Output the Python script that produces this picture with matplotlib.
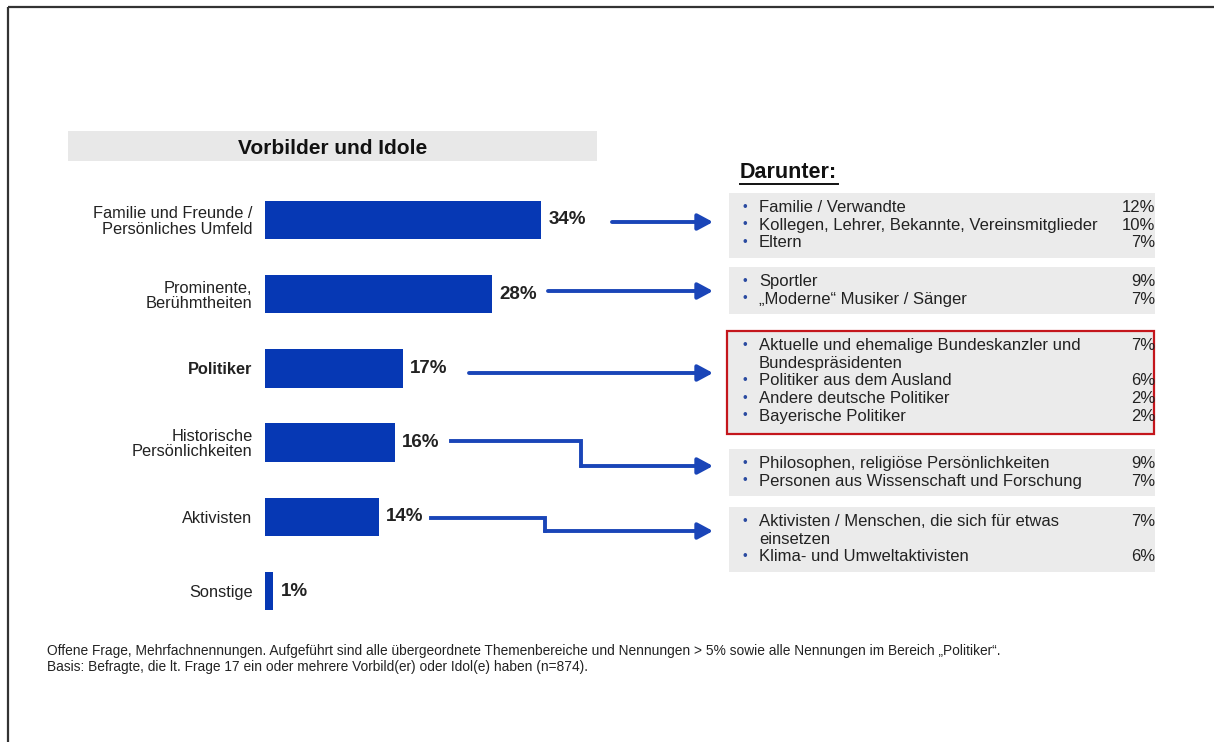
import matplotlib

matplotlib.use("Agg")
import matplotlib.pyplot as plt
from matplotlib.patches import Rectangle

# --- data -----------------------------------------------------------------
CATEGORIES = [
    "Familie und Freunde /\nPersönliches Umfeld",
    "Prominente,\nBerühmtheiten",
    "Politiker",
    "Historische\nPersönlichkeiten",
    "Aktivisten",
    "Sonstige",
]
VALUES = [34, 28, 17, 16, 14, 1]

SUB_ITEMS = [
    ["Familie / Verwandte", "Kollegen, Lehrer, Bekannte, Vereinsmitglieder", "Eltern"],
    ["Sportler", "„Moderne“ Musiker / Sänger"],
    ["Aktuelle und ehemalige Bundeskanzler und\nBundespräsidenten",
     "Politiker aus dem Ausland", "Andere deutsche Politiker", "Bayerische Politiker"],
    ["Philosophen, religiöse Persönlichkeiten", "Personen aus Wissenschaft und Forschung"],
    ["Aktivisten / Menschen, die sich für etwas\neinsetzen", "Klima- und Umweltaktivisten"],
]
SUB_VALUES = [
    [12, 10, 7],
    [9, 7],
    [7, 6, 2, 2],
    [9, 7],
    [7, 6],
]

TITLE = "Vorbilder und Idole"
FOOTNOTE = [
    "Offene Frage, Mehrfachnennungen. Aufgeführt sind alle übergeordnete Themenbereiche "
    "und Nennungen > 5% sowie alle Nennungen im Bereich „Politiker“.",
    "Basis: Befragte, die lt. Frage 17 ein oder mehrere Vorbild(er) oder Idol(e) haben (n=874).",
]

# --- style ----------------------------------------------------------------
W, H = 1214, 742
BAR = "#0638b4"
ARROW = "#1a45b8"
BOXGRAY = "#ebebeb"
INK = "#222222"
RED = "#c4161c"

plt.rcParams["font.family"] = ["Liberation Sans", "DejaVu Sans"]

fig = plt.figure(figsize=(W / 100, H / 100), dpi=100)
fig.patch.set_facecolor("white")

# overlay axes in pixel coordinates for frame, boxes, arrows
ov = fig.add_axes([0, 0, 1, 1])
ov.set_xlim(0, W)
ov.set_ylim(H, 0)
ov.axis("off")


def px_axes(x0, y0, x1, y1):
    return fig.add_axes([x0 / W, 1 - y1 / H, (x1 - x0) / W, (y1 - y0) / H])


# frame (top + left only)
ov.plot([8, W], [7, 7], color="#333333", lw=1.6, solid_capstyle="butt")
ov.plot([8, 8], [7, H], color="#333333", lw=1.6, solid_capstyle="butt")

# title band
ov.add_patch(Rectangle((68, 131), 529, 30, color="#e8e8e8", lw=0))
ov.text(333, 148.5, TITLE, ha="center", va="center", fontsize=15,
        fontweight="bold", color="#111111")

# --- bar chart ------------------------------------------------------------
step = 74.2
ax = px_axes(265, 220 - step / 2, 265 + 812, 220 + step * 5.5)
ax.set_xlim(0, 100)
ax.set_ylim(len(VALUES) - 0.5, -0.5)
ypos = list(range(len(VALUES)))
ax.barh(ypos, VALUES, height=0.52, color=BAR)
ax.set_yticks(ypos)
ax.set_yticklabels(CATEGORIES, fontsize=11.8, color=INK, linespacing=1.0)
ax.get_yticklabels()[2].set_fontweight("bold")
ax.tick_params(axis="y", length=0, pad=9)
ax.set_xticks([])
for s in ax.spines.values():
    s.set_visible(False)
ax.patch.set_alpha(0)
for y, v in zip(ypos, VALUES):
    ax.text(v + 0.9, y, f"{v}%", va="center", ha="left", fontsize=13.5,
            fontweight="bold", color=INK)

# --- arrows ---------------------------------------------------------------
arrow_paths = [
    [(612, 222), (713, 222)],
    [(548, 291), (713, 291)],
    [(469, 373), (713, 373)],
    [(451, 441), (581, 441), (581, 466), (713, 466)],
    [(431, 518), (545, 518), (545, 531), (713, 531)],
]
for path in arrow_paths:
    xs = [p[0] for p in path[:-1]]
    ys = [p[1] for p in path[:-1]]
    if len(path) > 2:
        ov.plot(xs, ys, color=ARROW, lw=2.8, solid_joinstyle="miter",
                solid_capstyle="projecting")
    ov.annotate("", xy=path[-1], xytext=path[-2],
                arrowprops=dict(arrowstyle="-|>,head_length=0.65,head_width=0.35",
                                color=ARROW, lw=2.8, shrinkA=0, shrinkB=0,
                                mutation_scale=14))

# --- sub-item boxes -------------------------------------------------------
ov.text(740, 173, "Darunter:", ha="left", va="center", fontsize=15.5,
        fontweight="bold", color="#111111")
ov.plot([740, 838], [184, 184], color="#111111", lw=1.4)

box_tops = [193, 267, 331, 449, 507]
line_h = 17.7
for gi, (items, vals, top) in enumerate(zip(SUB_ITEMS, SUB_VALUES, box_tops)):
    n_lines = sum(t.count("\n") + 1 for t in items)
    height = 12 + line_h * n_lines
    if gi == 2:
        ov.add_patch(Rectangle((727, top), 427, height + 2, facecolor=BOXGRAY,
                               edgecolor=RED, lw=1.6))
    else:
        ov.add_patch(Rectangle((729, top), 426, height, color=BOXGRAY, lw=0))
    y = top + 14.5
    for text, v in zip(items, vals):
        ov.text(745, y, "•", ha="center", va="center", fontsize=9.5, color="#2a4aa0")
        ov.text(1155, y, f"{v}%", ha="right", va="center", fontsize=12, color=INK)
        for line in text.split("\n"):
            ov.text(759, y, line, ha="left", va="center", fontsize=12, color=INK)
            y += line_h

# --- footnote -------------------------------------------------------------
for i, line in enumerate(FOOTNOTE):
    ov.text(47, 651 + 16 * i, line, ha="left", va="center", fontsize=9.9,
            color=INK, family=["Liberation Sans Narrow", "Liberation Sans"])

fig.savefig("out.png", dpi=100)
